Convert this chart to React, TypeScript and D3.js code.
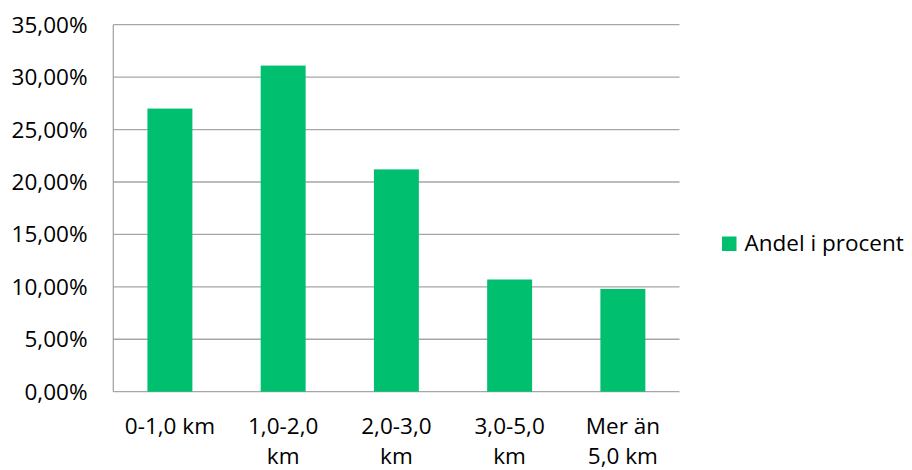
import React from "react";
import * as d3 from "d3";

const categories = ["0-1,0 km", "1,0-2,0 km", "2,0-3,0 km", "3,0-5,0 km", "Mer än 5,0 km"];
const categoryLabelLines = [["0-1,0 km"], ["1,0-2,0", "km"], ["2,0-3,0", "km"], ["3,0-5,0", "km"], ["Mer än", "5,0 km"]];
const shareValues = [27.0, 31.1, 21.2, 10.7, 9.8];
const yTicks = [0, 5, 10, 15, 20, 25, 30, 35];
const seriesName = "Andel i procent";

const W = 912;
const H = 470;
const FONT = "'Open Sans', Lato, sans-serif";
const GREEN = "#00bf6f";
const GRID = "#a6a6a6";

export default function App() {
  const left = 113.3;
  const right = 679.5;
  const top = 24.7;
  const bottom = 391.7;

  const x = d3.scaleBand<string>().domain(categories).range([left, right]).paddingInner(0.603).paddingOuter(0.3015);
  const y = d3.scaleLinear().domain([0, 35]).range([bottom, top]);
  const fmt = (v: number) => v.toFixed(2).replace(".", ",") + "%";

  return (
    <svg width={W} height={H} style={{ position: "fixed", left: 0, top: 0, background: "#fff" }} fontFamily={FONT}>
      <rect x={0} y={0} width={W} height={H} fill="#fff" />
      {yTicks.map((t) => (
        <line key={"g" + t} x1={left} x2={right} y1={y(t)} y2={y(t)} stroke={GRID} strokeWidth={1.3} />
      ))}
      <line x1={left} x2={left} y1={top} y2={bottom} stroke={GRID} strokeWidth={1.3} />
      {yTicks.map((t) => (
        <text key={"t" + t} x={87.5} y={y(t) + 8} textAnchor="end" fontSize={22.5} fill="#000">
          {fmt(t)}
        </text>
      ))}
      {categories.map((c, i) => (
        <rect key={c} x={x(c)} y={y(shareValues[i])} width={x.bandwidth()} height={y(0) - y(shareValues[i])} fill={GREEN} />
      ))}
      {categories.map((c, i) => (
        <text key={"l" + c} x={(x(c) as number) + x.bandwidth() / 2} y={434} textAnchor="middle" fontSize={22.5} fill="#000">
          {categoryLabelLines[i].map((ln, j) => (
            <tspan key={j} x={(x(c) as number) + x.bandwidth() / 2} dy={j === 0 ? 0 : 30}>
              {ln}
            </tspan>
          ))}
        </text>
      ))}
      <rect x={722} y={236.5} width={14.5} height={14.5} fill={GREEN} />
      <text x={744.5} y={251} fontSize={22.5} fill="#000">
        {seriesName}
      </text>
    </svg>
  );
}
